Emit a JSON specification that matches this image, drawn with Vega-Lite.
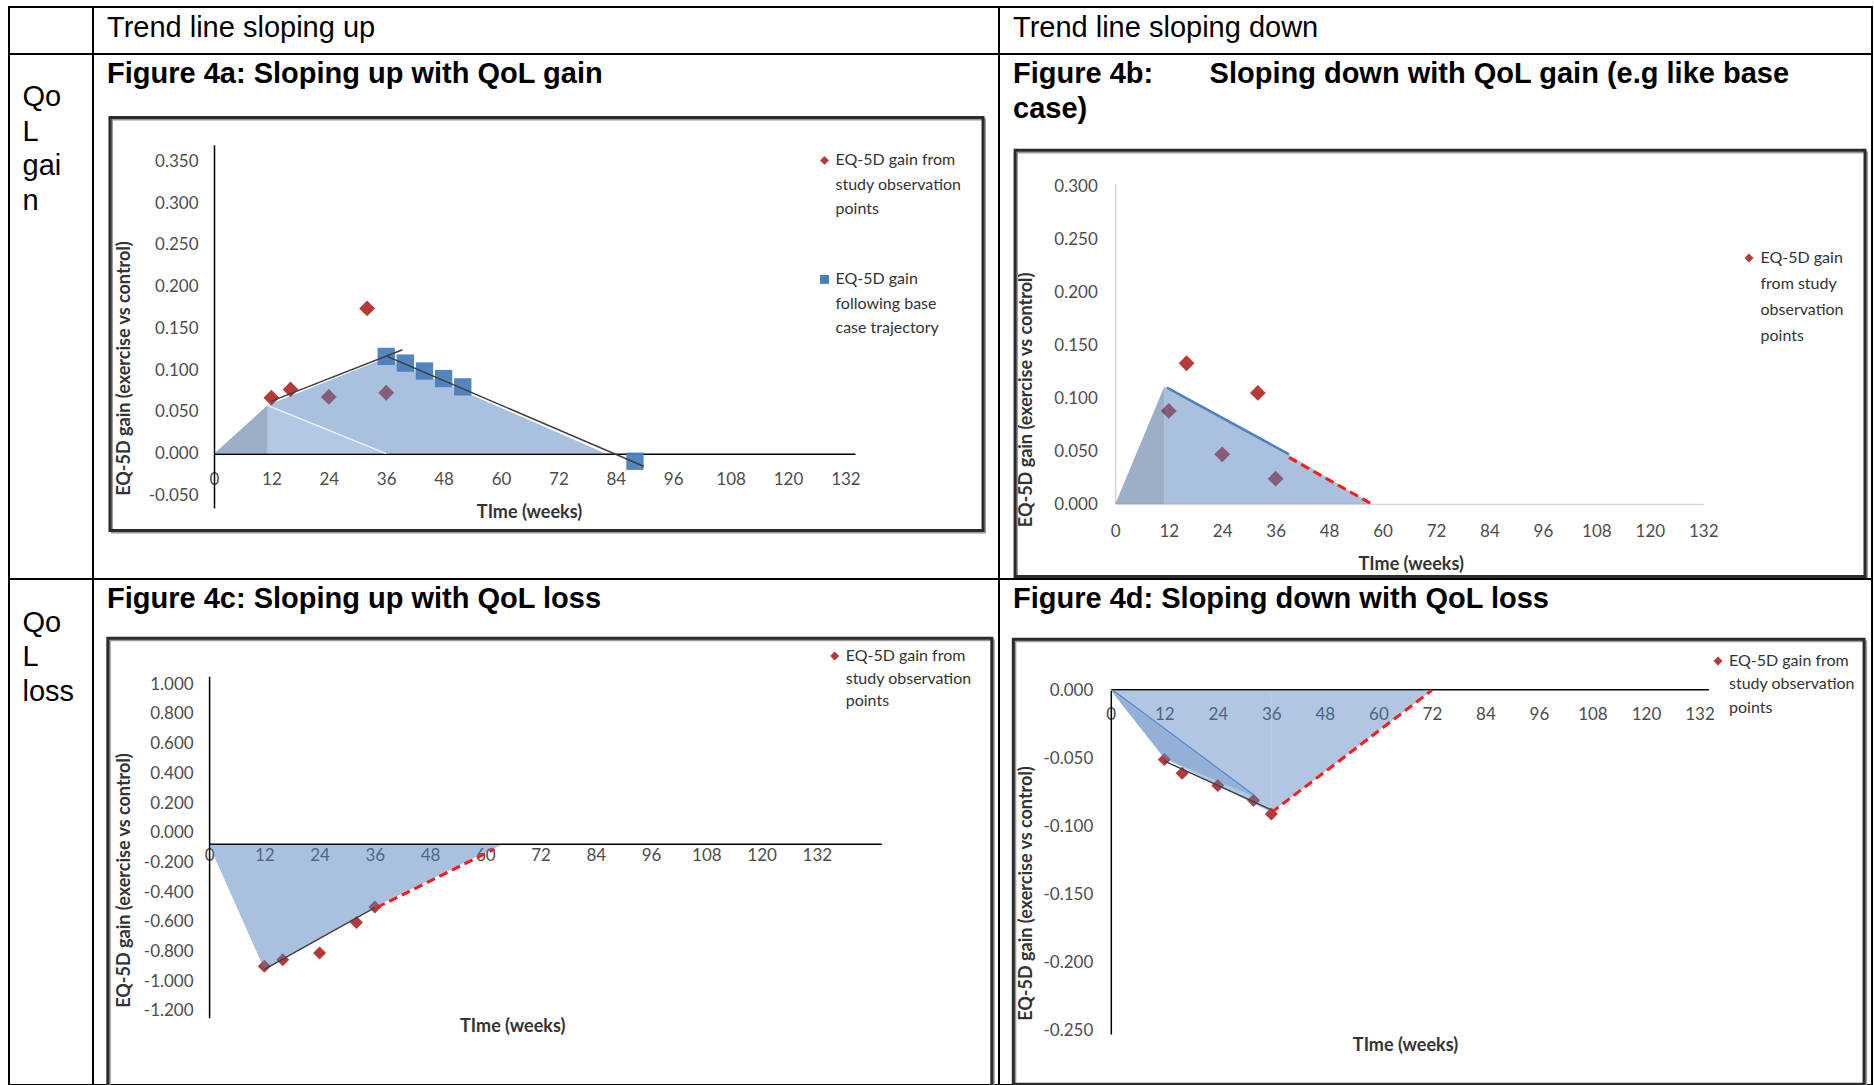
{
"$schema": "https://vega.github.io/schema/vega-lite/v6.json",
"background": "white",
"padding": {"left": 8, "top": 6, "right": 0, "bottom": 0},
"autosize": {"type": "pad"},
"columns": 3,
"spacing": 0,
"bounds": "flush",
"align": "each",
"resolve": {
  "scale": {"x": "independent", "y": "independent", "color": "independent", "shape": "independent"},
  "axis": {"x": "independent", "y": "independent"},
  "legend": {"color": "independent", "shape": "independent"}
},
"config": {
  "view": {"stroke": "#000000", "strokeWidth": 2},
  "locale": {"number": {"decimal": ".", "thousands": ",", "grouping": [3], "currency": ["$", ""], "minus": "-"}},
  "axis": {"grid": false, "ticks": false, "tickSize": 0, "domainColor": "#000000", "domainWidth": 1.5,
           "labelFont": "Lato", "labelFontSize": 17, "labelColor": "#4D4D4D", "labelFlush": false, "labelOverlap": false,
           "titleFont": "Lato", "titleFontSize": 18, "titleFontWeight": "bold", "titleColor": "#333333", "titleBaseline": "middle", "zindex": 1},
  "title": {"font": "Liberation Sans", "fontSize": 29, "color": "#000000", "anchor": "start", "frame": "group", "baseline": "alphabetic", "dx": 14, "fontWeight": "normal"}
},
"concat": [
  {"width": 84, "height": 47, "view": {"stroke": "#000000", "strokeWidth": 2},
   "data": {"values": [{"cell": "corner"}]}, "mark": {"type": "text", "text": ""},
   "encoding": {"x": {"field": "cell", "type": "nominal", "axis": null}}},
  {"width": 906, "height": 47, "view": {"stroke": "#000000", "strokeWidth": 2},
   "title": {"text": "Trend line sloping up", "offset": -36},
   "data": {"values": [{"cell": "header up"}]}, "mark": {"type": "text", "text": ""},
   "encoding": {"x": {"field": "cell", "type": "nominal", "axis": null}}},
  {"width": 873, "height": 47, "view": {"stroke": "#000000", "strokeWidth": 2},
   "title": {"text": "Trend line sloping down", "offset": -36},
   "data": {"values": [{"cell": "header down"}]}, "mark": {"type": "text", "text": ""},
   "encoding": {"x": {"field": "cell", "type": "nominal", "axis": null}}},

  {"width": 84, "height": 525, "view": {"stroke": "#000000", "strokeWidth": 2},
   "title": {"text": ["Qo", "L", "gai", "n"], "offset": -162, "lineHeight": 34.7, "dx": 13.5},
   "data": {"values": [{"cell": "QoL gain"}]}, "mark": {"type": "text", "text": ""},
   "encoding": {"x": {"field": "cell", "type": "nominal", "axis": null}}},

  {"width": 906, "height": 525,
   "title": {"text": "Figure 4a: Sloping up with QoL gain", "fontWeight": "bold", "offset": -35},
   "layer": [
    {"data": {"values": [{"frame": "4a shadow"}]},
     "mark": {"type": "rect", "fill": "#ffffff", "fillOpacity": 0, "stroke": "#9a9a9a", "strokeWidth": 2},
     "encoding": {"x": {"datum": -21.32, "type": "quantitative"}, "x2": {"datum": 161.18}, "y": {"datum": 0.4003, "type": "quantitative"}, "y2": {"datum": -0.0942}}},
    {"data": {"values": [{"frame": "4a"}]},
     "mark": {"type": "rect", "fill": "#ffffff", "fillOpacity": 0, "stroke": "#2b2b2b", "strokeWidth": 3},
     "encoding": {"x": {"datum": -21.74, "type": "quantitative"}, "x2": {"datum": 160.76}, "y": {"datum": 0.4027, "type": "quantitative"}, "y2": {"datum": -0.0918}}},
    {"data": {"values": [
       {"t": 12, "v": 0.067, "series": "EQ-5D gain from|study observation|points"},
       {"t": 16, "v": 0.077, "series": "EQ-5D gain from|study observation|points"},
       {"t": 24, "v": 0.068, "series": "EQ-5D gain from|study observation|points"},
       {"t": 32, "v": 0.174, "series": "EQ-5D gain from|study observation|points"},
       {"t": 36, "v": 0.073, "series": "EQ-5D gain from|study observation|points"}]},
     "mark": {"type": "point", "filled": true, "size": 250, "opacity": 1},
     "encoding": {
       "x": {"field": "t", "type": "quantitative", "scale": {"domain": [0, 134], "range": [121, 762], "nice": false, "zero": false},
             "axis": {"orient": "bottom", "offset": -125.3, "values": [0, 12, 24, 36, 48, 60, 72, 84, 96, 108, 120, 132], "format": "d", "labelPadding": 18, "title": "TIme (weeks)", "titleX": 436, "titleY": 59}},
       "y": {"field": "v", "type": "quantitative", "scale": {"domain": [-0.065, 0.37], "range": [454, 90.7], "nice": false, "zero": false},
             "axis": {"orient": "left", "offset": -121, "values": [-0.05, 0, 0.05, 0.1, 0.15, 0.2, 0.25, 0.3, 0.35], "format": ".3f", "labelPadding": 16, "title": "EQ-5D gain (exercise vs control)", "titleX": -90, "titleY": 314, "titleAngle": 270}},
       "color": {"field": "series", "type": "nominal",
                 "scale": {"domain": ["EQ-5D gain from|study observation|points", "EQ-5D gain|following base|case trajectory"], "range": ["#B83A38", "#4A7EBB"]},
                 "legend": {"orient": "none", "legendX": 723.5, "legendY": 98.4, "title": null, "labelExpr": "split(datum.label, '|')", "symbolSize": 80, "labelOffset": 3, "rowPadding": 54, "padding": 0, "labelLimit": 400, "labelFont": "Lato", "labelFontSize": 16, "labelColor": "#333333", "symbolStrokeWidth": 0,
                            "encoding": {"labels": {"lineHeight": {"value": 24.5}}}}},
       "shape": {"field": "series", "type": "nominal",
                 "scale": {"domain": ["EQ-5D gain from|study observation|points", "EQ-5D gain|following base|case trajectory"], "range": ["diamond", "square"]}}
     }},
    {"data": {"values": [{"t": 0, "v": 0}, {"t": 11.2, "v": 0.058}]},
     "mark": {"type": "area", "color": "#3A5F8F", "opacity": 0.5},
     "encoding": {"x": {"field": "t", "type": "quantitative"}, "y": {"field": "v", "type": "quantitative"}, "y2": {"datum": 0}}},
    {"data": {"values": [{"t": 11.2, "v": 0.058}, {"t": 36, "v": 0.115}, {"t": 82, "v": 0}]},
     "mark": {"type": "area", "color": "#4F81BD", "opacity": 0.49},
     "encoding": {"x": {"field": "t", "type": "quantitative"}, "y": {"field": "v", "type": "quantitative"}, "y2": {"datum": 0}}},
    {"data": {"values": [{"t": 11.2, "v": 0.058}, {"t": 36, "v": 0}]},
     "mark": {"type": "area", "color": "#ffffff", "opacity": 0.12},
     "encoding": {"x": {"field": "t", "type": "quantitative"}, "y": {"field": "v", "type": "quantitative"}, "y2": {"datum": 0}}},
    {"data": {"values": [{"t": 11.2, "v": 0.058}, {"t": 36, "v": 0}]},
     "mark": {"type": "line", "color": "#ffffff", "strokeWidth": 1.3, "opacity": 0.8},
     "encoding": {"x": {"field": "t", "type": "quantitative"}, "y": {"field": "v", "type": "quantitative"}}},
    {"data": {"values": [
       {"t": 36, "v": 0.1165, "series": "EQ-5D gain|following base|case trajectory"},
       {"t": 40, "v": 0.1085, "series": "EQ-5D gain|following base|case trajectory"},
       {"t": 44, "v": 0.099, "series": "EQ-5D gain|following base|case trajectory"},
       {"t": 48, "v": 0.09, "series": "EQ-5D gain|following base|case trajectory"},
       {"t": 52, "v": 0.08, "series": "EQ-5D gain|following base|case trajectory"},
       {"t": 88, "v": -0.009, "series": "EQ-5D gain|following base|case trajectory"}]},
     "mark": {"type": "point", "filled": true, "size": 300, "opacity": 0.95},
     "encoding": {"x": {"field": "t", "type": "quantitative"}, "y": {"field": "v", "type": "quantitative"},
       "color": {"field": "series", "type": "nominal"}, "shape": {"field": "series", "type": "nominal"}}},
    {"data": {"values": [
       {"seg": "up", "t": 12, "v": 0.063}, {"seg": "up", "t": 39.4, "v": 0.1245},
       {"seg": "down", "t": 36, "v": 0.117}, {"seg": "down", "t": 89.8, "v": -0.015}]},
     "mark": {"type": "line", "color": "#404040", "strokeWidth": 1.5},
     "encoding": {"x": {"field": "t", "type": "quantitative"}, "y": {"field": "v", "type": "quantitative"}, "detail": {"field": "seg"}}}
   ]},

  {"width": 873, "height": 525,
   "title": {"text": ["Figure 4b:\u00a0\u00a0\u00a0\u00a0\u00a0\u00a0\u00a0Sloping down with QoL gain (e.g like base", "case)"], "fontWeight": "bold", "offset": -69.7, "lineHeight": 34.7},
   "layer": [
    {"data": {"values": [{"frame": "4b shadow"}]},
     "mark": {"type": "rect", "fill": "#ffffff", "fillOpacity": 0, "stroke": "#9a9a9a", "strokeWidth": 2},
     "encoding": {"x": {"datum": -22.05, "type": "quantitative"}, "x2": {"datum": 168.75}, "y": {"datum": 0.3321, "type": "quantitative"}, "y2": {"datum": -0.0702}}},
    {"data": {"values": [{"frame": "4b"}]},
     "mark": {"type": "rect", "fill": "#ffffff", "fillOpacity": 0, "stroke": "#2b2b2b", "strokeWidth": 3},
     "encoding": {"x": {"datum": -22.5, "type": "quantitative"}, "x2": {"datum": 168.3}, "y": {"datum": 0.334, "type": "quantitative"}, "y2": {"datum": -0.0683}}},
    {"data": {"values": [
       {"t": 12, "v": 0.088, "series": "EQ-5D gain|from study|observation|points"},
       {"t": 16, "v": 0.133, "series": "EQ-5D gain|from study|observation|points"},
       {"t": 24, "v": 0.047, "series": "EQ-5D gain|from study|observation|points"},
       {"t": 32, "v": 0.105, "series": "EQ-5D gain|from study|observation|points"},
       {"t": 36, "v": 0.024, "series": "EQ-5D gain|from study|observation|points"}]},
     "mark": {"type": "point", "filled": true, "size": 250, "opacity": 1},
     "encoding": {
       "x": {"field": "t", "type": "quantitative", "scale": {"domain": [0, 132], "range": [116.3, 704.3], "nice": false, "zero": false},
             "axis": {"orient": "bottom", "offset": -74.9, "values": [0, 12, 24, 36, 48, 60, 72, 84, 96, 108, 120, 132], "format": "d", "labelPadding": 19, "domainColor": "#D9D9D9", "title": "TIme (weeks)", "titleX": 411.7, "titleY": 60}},
       "y": {"field": "v", "type": "quantitative", "scale": {"domain": [0, 0.303], "range": [450.1, 129.2], "nice": false, "zero": false},
             "axis": {"orient": "left", "offset": -116.3, "values": [0, 0.05, 0.1, 0.15, 0.2, 0.25, 0.3], "format": ".3f", "labelPadding": 18, "domainColor": "#D9D9D9", "title": "EQ-5D gain (exercise vs control)", "titleX": -89.3, "titleY": 345.4, "titleAngle": 270}},
       "color": {"field": "series", "type": "nominal",
                 "scale": {"domain": ["EQ-5D gain|from study|observation|points"], "range": ["#B83A38"]},
                 "legend": {"orient": "none", "legendX": 742, "legendY": 196, "title": null, "labelExpr": "split(datum.label, '|')", "symbolSize": 80, "labelOffset": 3.5, "padding": 0, "labelLimit": 400, "labelFont": "Lato", "labelFontSize": 16, "labelColor": "#333333", "symbolStrokeWidth": 0,
                            "encoding": {"labels": {"lineHeight": {"value": 26}}}}},
       "shape": {"field": "series", "type": "nominal", "scale": {"domain": ["EQ-5D gain|from study|observation|points"], "range": ["diamond"]}}
     }},
    {"data": {"values": [{"t": 0, "v": 0}, {"t": 11, "v": 0.111}]},
     "mark": {"type": "area", "color": "#3A5F8F", "opacity": 0.5},
     "encoding": {"x": {"field": "t", "type": "quantitative"}, "y": {"field": "v", "type": "quantitative"}, "y2": {"datum": 0}}},
    {"data": {"values": [{"t": 11, "v": 0.111}, {"t": 39, "v": 0.0466}, {"t": 57.6, "v": 0}]},
     "mark": {"type": "area", "color": "#4F81BD", "opacity": 0.49},
     "encoding": {"x": {"field": "t", "type": "quantitative"}, "y": {"field": "v", "type": "quantitative"}, "y2": {"datum": 0}}},
    {"data": {"values": [{"t": 11.6, "v": 0.110}, {"t": 39, "v": 0.047}]},
     "mark": {"type": "line", "color": "#4F81BD", "strokeWidth": 2.5},
     "encoding": {"x": {"field": "t", "type": "quantitative"}, "y": {"field": "v", "type": "quantitative"}}},
    {"data": {"values": [{"t": 39, "v": 0.044}, {"t": 57.6, "v": 0}]},
     "mark": {"type": "line", "color": "#FF1A1A", "strokeWidth": 3, "strokeDash": [9, 5]},
     "encoding": {"x": {"field": "t", "type": "quantitative"}, "y": {"field": "v", "type": "quantitative"}}}
   ]},

  {"width": 84, "height": 506, "view": {"stroke": "#000000", "strokeWidth": 2},
   "title": {"text": ["Qo", "L", "loss"], "offset": -128, "lineHeight": 34.7, "dx": 13.5},
   "data": {"values": [{"cell": "QoL loss"}]}, "mark": {"type": "text", "text": ""},
   "encoding": {"x": {"field": "cell", "type": "nominal", "axis": null}}},

  {"width": 906, "height": 506,
   "title": {"text": "Figure 4c: Sloping up with QoL loss", "fontWeight": "bold", "offset": -35},
   "layer": [
    {"data": {"values": [{"frame": "4c shadow"}]},
     "mark": {"type": "rect", "fill": "#ffffff", "fillOpacity": 0, "stroke": "#9a9a9a", "strokeWidth": 2, "clip": true},
     "encoding": {"x": {"datum": -21.57, "type": "quantitative"}, "x2": {"datum": 170.43}, "y": {"datum": 1.2955, "type": "quantitative"}, "y2": {"datum": -1.806}}},
    {"data": {"values": [{"frame": "4c"}]},
     "mark": {"type": "rect", "fill": "#ffffff", "fillOpacity": 0, "stroke": "#2b2b2b", "strokeWidth": 3, "clip": true},
     "encoding": {"x": {"datum": -22.0, "type": "quantitative"}, "x2": {"datum": 170.0}, "y": {"datum": 1.309, "type": "quantitative"}, "y2": {"datum": -1.793}}},
    {"data": {"values": [
       {"t": 12, "v": -0.9, "series": "EQ-5D gain from|study observation|points"},
       {"t": 16, "v": -0.855, "series": "EQ-5D gain from|study observation|points"},
       {"t": 24, "v": -0.81, "series": "EQ-5D gain from|study observation|points"},
       {"t": 32, "v": -0.605, "series": "EQ-5D gain from|study observation|points"},
       {"t": 36, "v": -0.5, "series": "EQ-5D gain from|study observation|points"}]},
     "mark": {"type": "point", "filled": true, "size": 170, "opacity": 1},
     "encoding": {
       "x": {"field": "t", "type": "quantitative", "scale": {"domain": [0, 146], "range": [116.1, 788.3], "nice": false, "zero": false},
             "axis": {"orient": "bottom", "offset": -241.3, "values": [0, 12, 24, 36, 48, 60, 72, 84, 96, 108, 120, 132], "format": "d", "labelPadding": 4, "title": "TIme (weeks)", "titleX": 419.2, "titleY": 183}},
       "y": {"field": "v", "type": "quantitative", "scale": {"domain": [-1.246, 1.054], "range": [438.7, 97.2], "nice": false, "zero": false},
             "axis": {"orient": "left", "offset": -116.1, "values": [-1.2, -1, -0.8, -0.6, -0.4, -0.2, 0, 0.2, 0.4, 0.6, 0.8, 1], "format": ".3f", "labelPadding": 16, "title": "EQ-5D gain (exercise vs control)", "titleX": -85, "titleY": 301, "titleAngle": 270}},
       "color": {"field": "series", "type": "nominal",
                 "scale": {"domain": ["EQ-5D gain from|study observation|points"], "range": ["#B83A38"]},
                 "legend": {"orient": "none", "legendX": 733.7, "legendY": 69, "title": null, "labelExpr": "split(datum.label, '|')", "symbolSize": 80, "labelOffset": 3, "padding": 0, "labelLimit": 400, "labelFont": "Lato", "labelFontSize": 16, "labelColor": "#333333", "symbolStrokeWidth": 0,
                            "encoding": {"labels": {"lineHeight": {"value": 22.7}}}}},
       "shape": {"field": "series", "type": "nominal", "scale": {"domain": ["EQ-5D gain from|study observation|points"], "range": ["diamond"]}}
     }},
    {"data": {"values": [{"t": 0, "v": -0.081}, {"t": 12, "v": -0.92}, {"t": 36, "v": -0.5}, {"t": 63.5, "v": -0.081}]},
     "mark": {"type": "area", "color": "#4F81BD", "opacity": 0.49},
     "encoding": {"x": {"field": "t", "type": "quantitative"}, "y": {"field": "v", "type": "quantitative"}, "y2": {"datum": -0.081}}},
    {"data": {"values": [{"t": 12, "v": -0.92}, {"t": 36, "v": -0.505}]},
     "mark": {"type": "line", "color": "#404040", "strokeWidth": 1.5},
     "encoding": {"x": {"field": "t", "type": "quantitative"}, "y": {"field": "v", "type": "quantitative"}}},
    {"data": {"values": [{"t": 36.4, "v": -0.504}, {"t": 62, "v": -0.11}]},
     "mark": {"type": "line", "color": "#FF1A1A", "strokeWidth": 3, "strokeDash": [9, 5]},
     "encoding": {"x": {"field": "t", "type": "quantitative"}, "y": {"field": "v", "type": "quantitative"}}}
   ]},

  {"width": 873, "height": 506,
   "title": {"text": "Figure 4d: Sloping down with QoL loss", "fontWeight": "bold", "offset": -35},
   "layer": [
    {"data": {"values": [{"frame": "4d shadow"}]},
     "mark": {"type": "rect", "fill": "#ffffff", "fillOpacity": 0, "stroke": "#9a9a9a", "strokeWidth": 2},
     "encoding": {"x": {"datum": -21.41, "type": "quantitative"}, "x2": {"datum": 169.35}, "y": {"datum": 0.03606, "type": "quantitative"}, "y2": {"datum": -0.2914}}},
    {"data": {"values": [{"frame": "4d"}]},
     "mark": {"type": "rect", "fill": "#ffffff", "fillOpacity": 0, "stroke": "#2b2b2b", "strokeWidth": 3},
     "encoding": {"x": {"datum": -21.86, "type": "quantitative"}, "x2": {"datum": 168.9}, "y": {"datum": 0.03753, "type": "quantitative"}, "y2": {"datum": -0.2899}}},
    {"data": {"values": [
       {"t": 12, "v": -0.051, "series": "EQ-5D gain from|study observation|points"},
       {"t": 16, "v": -0.061, "series": "EQ-5D gain from|study observation|points"},
       {"t": 24, "v": -0.07, "series": "EQ-5D gain from|study observation|points"},
       {"t": 32, "v": -0.081, "series": "EQ-5D gain from|study observation|points"},
       {"t": 36, "v": -0.091, "series": "EQ-5D gain from|study observation|points"}]},
     "mark": {"type": "point", "filled": true, "size": 170, "opacity": 1},
     "encoding": {
       "x": {"field": "t", "type": "quantitative", "scale": {"domain": [0, 134], "range": [111.8, 709.4], "nice": false, "zero": false},
             "axis": {"orient": "bottom", "offset": -395.7, "values": [0, 12, 24, 36, 48, 60, 72, 84, 96, 108, 120, 132], "format": "d", "labelPadding": 17, "title": "TIme (weeks)", "titleX": 406, "titleY": 355.7}},
       "y": {"field": "v", "type": "quantitative", "scale": {"domain": [-0.253, 0], "range": [455.1, 111.3], "nice": false, "zero": false},
             "axis": {"orient": "left", "offset": -111.8, "values": [-0.25, -0.2, -0.15, -0.1, -0.05, 0], "format": ".3f", "labelPadding": 18, "title": "EQ-5D gain (exercise vs control)", "titleX": -84.8, "titleY": 314, "titleAngle": 270}},
       "color": {"field": "series", "type": "nominal",
                 "scale": {"domain": ["EQ-5D gain from|study observation|points"], "range": ["#B83A38"]},
                 "legend": {"orient": "none", "legendX": 711, "legendY": 74, "title": null, "labelExpr": "split(datum.label, '|')", "symbolSize": 80, "labelOffset": 3, "padding": 0, "labelLimit": 400, "labelFont": "Lato", "labelFontSize": 16, "labelColor": "#333333", "symbolStrokeWidth": 0,
                            "encoding": {"labels": {"lineHeight": {"value": 23.3}}}}},
       "shape": {"field": "series", "type": "nominal", "scale": {"domain": ["EQ-5D gain from|study observation|points"], "range": ["diamond"]}}
     }},
    {"data": {"values": [{"t": 0, "v": 0}, {"t": 12, "v": -0.05}, {"t": 36, "v": -0.09}]},
     "mark": {"type": "area", "color": "#4F81BD", "opacity": 0.45},
     "encoding": {"x": {"field": "t", "type": "quantitative"}, "y": {"field": "v", "type": "quantitative"}, "y2": {"datum": 0}}},
    {"data": {"values": [{"t": 36, "v": -0.09}, {"t": 72, "v": 0}]},
     "mark": {"type": "area", "color": "#4F81BD", "opacity": 0.45},
     "encoding": {"x": {"field": "t", "type": "quantitative"}, "y": {"field": "v", "type": "quantitative"}, "y2": {"datum": 0}}},
    {"data": {"values": [{"t": 0, "v": 0, "v2": 0}, {"t": 12, "v": -0.05, "v2": -0.0293}, {"t": 32, "v": -0.078, "v2": -0.078}]},
     "mark": {"type": "area", "color": "#4F81BD", "opacity": 0.3},
     "encoding": {"x": {"field": "t", "type": "quantitative"}, "y": {"field": "v", "type": "quantitative"}, "y2": {"field": "v2"}}},
    {"data": {"values": [{"t": 0.5, "v": 0}, {"t": 32, "v": -0.077}]},
     "mark": {"type": "line", "color": "#5B8BD0", "strokeWidth": 1.5},
     "encoding": {"x": {"field": "t", "type": "quantitative"}, "y": {"field": "v", "type": "quantitative"}}},
    {"data": {"values": [{"t": 12, "v": -0.052}, {"t": 36, "v": -0.088}]},
     "mark": {"type": "line", "color": "#404040", "strokeWidth": 1.5},
     "encoding": {"x": {"field": "t", "type": "quantitative"}, "y": {"field": "v", "type": "quantitative"}}},
    {"data": {"values": [{"t": 36, "v": -0.09}, {"t": 72, "v": 0}]},
     "mark": {"type": "line", "color": "#FF1A1A", "strokeWidth": 3, "strokeDash": [9, 5]},
     "encoding": {"x": {"field": "t", "type": "quantitative"}, "y": {"field": "v", "type": "quantitative"}}}
   ]}
]
}
